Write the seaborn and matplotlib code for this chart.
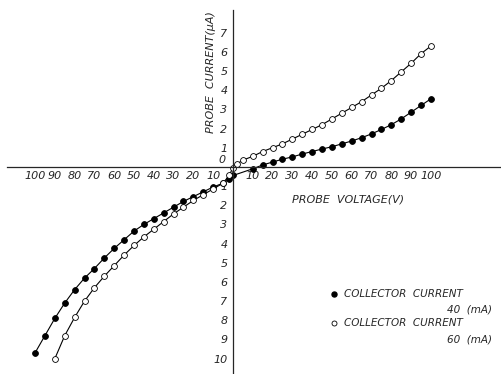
import numpy as np
import matplotlib
matplotlib.use("Agg")
import matplotlib.pyplot as plt
import pandas as pd
import seaborn as sns

# probe characteristics
volts_40 = [-100, -95, -90, -85, -80, -75, -70, -65, -60, -55, -50, -45, -40, -35,
            -30, -25, -20, -15, -10, -5, -2, 0, 10, 15, 20, 25, 30, 35, 40, 45,
            50, 55, 60, 65, 70, 75, 80, 85, 90, 95, 100]
current_40 = [-9.7, -8.8, -7.9, -7.1, -6.4, -5.8, -5.3, -4.75, -4.25, -3.8, -3.35,
              -3.0, -2.7, -2.4, -2.1, -1.8, -1.55, -1.3, -1.05, -0.85, -0.65, -0.45,
              -0.1, 0.1, 0.25, 0.4, 0.52, 0.67, 0.8, 0.93, 1.05, 1.2, 1.35, 1.52,
              1.72, 1.95, 2.2, 2.5, 2.85, 3.2, 3.55]

volts_60 = [-90, -85, -80, -75, -70, -65, -60, -55, -50, -45, -40, -35, -30, -25,
            -20, -15, -10, -5, -2, 0, 2, 5, 10, 15, 20, 25, 30, 35, 40, 45, 50,
            55, 60, 65, 70, 75, 80, 85, 90, 95, 100]
current_60 = [-10.0, -8.8, -7.85, -7.0, -6.3, -5.7, -5.15, -4.6, -4.1, -3.65, -3.25,
              -2.85, -2.45, -2.1, -1.75, -1.45, -1.15, -0.85, -0.45, -0.05, 0.15,
              0.35, 0.55, 0.8, 1.0, 1.2, 1.45, 1.7, 1.95, 2.2, 2.5, 2.8, 3.1, 3.4,
              3.75, 4.1, 4.5, 4.95, 5.4, 5.9, 6.3]

x_ticks = [-100, -90, -80, -70, -60, -50, -40, -30, -20, -10,
           10, 20, 30, 40, 50, 60, 70, 80, 90, 100]
y_ticks = [-10, -9, -8, -7, -6, -5, -4, -3, -2, -1, 1, 2, 3, 4, 5, 6, 7]

df40 = pd.DataFrame({'V': volts_40, 'I': current_40})
df60 = pd.DataFrame({'V': volts_60, 'I': current_60})

sns.set_style('white')
plt.rcParams['font.family'] = ['DejaVu Sans']

W, H = 501, 374
fig = plt.figure(figsize=(W / 100, H / 100), dpi=100)
ax = fig.add_axes([0, 0, 1, 1])

sns.lineplot(data=df40, x='V', y='I', ax=ax, color='black', lw=0.8,
             marker='o', markersize=4.2, markerfacecolor='black',
             markeredgecolor='black', markeredgewidth=0.6, estimator=None)
sns.lineplot(data=df60, x='V', y='I', ax=ax, color='black', lw=0.8,
             marker='o', markersize=4.2, markerfacecolor='white',
             markeredgecolor='black', markeredgewidth=0.6, estimator=None)

ax.set_xlim(-117.7, 135.4)
ax.set_ylim(-10.8, 8.7)

# axes cross at the origin
for s in ['top', 'right']:
    ax.spines[s].set_visible(False)
ax.spines['left'].set_position(('data', 0))
ax.spines['bottom'].set_position(('data', 0))
ax.spines['left'].set_bounds(-10.9, 8.2)
ax.spines['bottom'].set_bounds(-114, 135)
ax.spines['left'].set_linewidth(0.9)
ax.spines['bottom'].set_linewidth(0.9)

ax.set_xticks(x_ticks)
ax.set_xticklabels([str(abs(v)) for v in x_ticks], fontsize=8, style='italic')
ax.set_yticks(y_ticks)
ax.set_yticklabels([str(abs(v)) for v in y_ticks], fontsize=8, style='italic')
ax.tick_params(axis='x', direction='in', length=2, width=0.6, pad=3)
ax.tick_params(axis='y', direction='out', length=3, width=0.6, pad=1)
ax.text(-4, 0.08, '0', fontsize=8, style='italic', ha='right', va='bottom')

ax.set_xlabel('')
ax.set_ylabel('')
fig.text(348 / W, 1 - 200 / H, 'PROBE  VOLTAGE(V)', fontsize=8, style='italic',
         ha='center', va='center')
fig.text(211 / W, 1 - 72 / H, 'PROBE  CURRENT(\u03bcA)', fontsize=8, style='italic',
         ha='center', va='center', rotation=90)

# legend drawn by hand, as in the original
ax.plot([334 / W], [1 - 294 / H], 'o', transform=fig.transFigure, ms=3.6,
        mfc='black', mec='black', clip_on=False)
fig.text(344 / W, 1 - 294 / H, 'COLLECTOR  CURRENT', fontsize=7.5, style='italic',
         ha='left', va='center')
fig.text(492 / W, 1 - 309 / H, '40  (mA)', fontsize=7.5, style='italic',
         ha='right', va='center')
ax.plot([334 / W], [1 - 323 / H], 'o', transform=fig.transFigure, ms=3.6,
        mfc='white', mec='black', mew=0.6, clip_on=False)
fig.text(344 / W, 1 - 323 / H, 'COLLECTOR  CURRENT', fontsize=7.5, style='italic',
         ha='left', va='center')
fig.text(492 / W, 1 - 339 / H, '60  (mA)', fontsize=7.5, style='italic',
         ha='right', va='center')

fig.savefig('out.png', dpi=100)
